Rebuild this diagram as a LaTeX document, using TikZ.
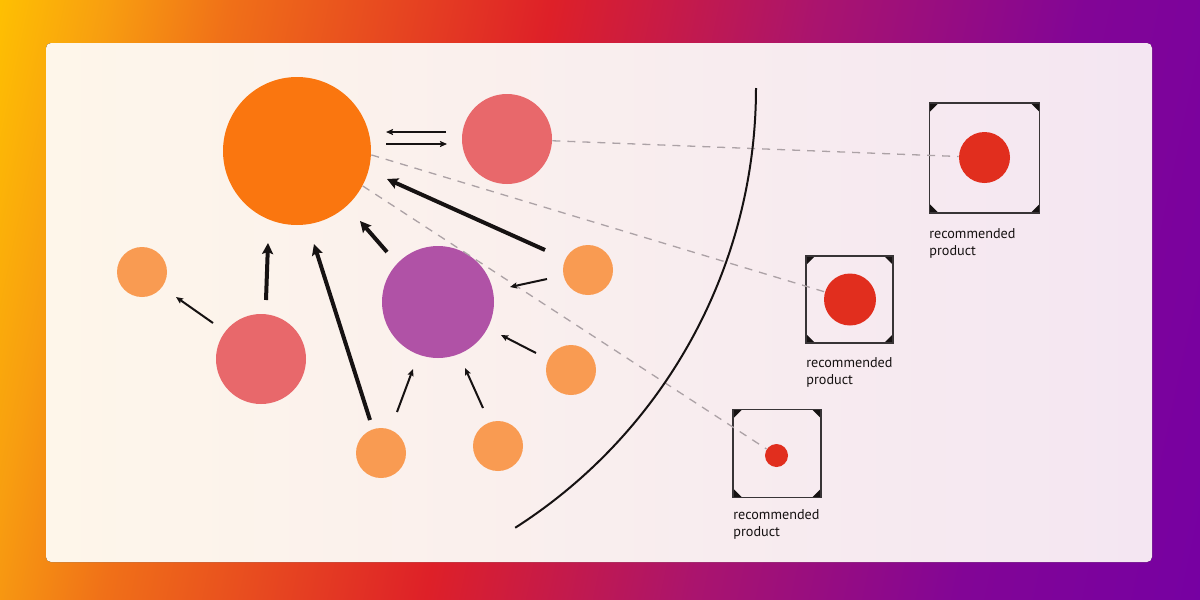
\documentclass[tikz,border=0pt]{standalone}
\usepackage{fontspec}
\newfontfamily\labelfont{PT Sans}
\usetikzlibrary{arrows.meta}
\definecolor{bgA}{RGB}{255,196,0}
\definecolor{bgA2}{RGB}{248,158,16}
\definecolor{bgB}{RGB}{240,112,24}
\definecolor{bgC}{RGB}{222,32,40}
\definecolor{bgD}{RGB}{170,20,110}
\definecolor{bgD2}{RGB}{130,5,150}
\definecolor{bgE}{RGB}{118,0,162}
\definecolor{panelL}{RGB}{254,246,234}
\definecolor{panelR}{RGB}{244,230,242}
\definecolor{cBig}{RGB}{250,118,15}
\definecolor{cPink}{RGB}{232,104,107}
\definecolor{cPurple}{RGB}{176,82,166}
\definecolor{cSmall}{RGB}{249,155,82}
\definecolor{cRed}{RGB}{225,46,30}
\definecolor{ink}{RGB}{22,18,18}
\definecolor{dashc}{RGB}{172,162,166}
\definecolor{boxc}{RGB}{56,52,54}
\pgfdeclarehorizontalshading{bgsh}{100bp}{color(0bp)=(bgA); color(19.5bp)=(bgA); color(25bp)=(bgA2); color(30.5bp)=(bgB); color(45bp)=(bgC); color(57bp)=(bgD); color(69bp)=(bgD2); color(80bp)=(bgE); color(100bp)=(bgE)}
\begin{document}
\begin{tikzpicture}[x=0.5pt,y=-0.5pt,
  blob/.style={circle, draw=none, inner sep=0pt, minimum size=#1},
  thickarr/.style={draw=ink, line width=2pt, -{Stealth[length=5.5pt,width=5.5pt,inset=1pt]}},
  thinarr/.style={draw=ink, line width=1pt, -{Stealth[length=3.5pt,width=3pt,inset=0.6pt]}},
  pairarr/.style={draw=ink, line width=1pt, -{Stealth[length=3.5pt,width=3pt,inset=0.6pt]}},
  dashline/.style={draw=dashc, line width=0.65pt, dash pattern=on 4pt off 3.5pt},
  arcline/.style={draw=ink, line width=1pt},
  rbox/.style={draw=boxc, line width=0.75pt, inner sep=0pt, minimum size=#1,
    path picture={
      \fill[ink] (path picture bounding box.north west) -- ++(9,0) -- ++(-9,9) -- cycle;
      \fill[ink] (path picture bounding box.north east) -- ++(-9,0) -- ++(9,9) -- cycle;
      \fill[ink] (path picture bounding box.south west) -- ++(9,0) -- ++(-9,-9) -- cycle;
      \fill[ink] (path picture bounding box.south east) -- ++(-9,0) -- ++(9,-9) -- cycle;
    }},
  lbl/.style={font=\labelfont\fontsize{7.1pt}{8.6pt}\selectfont, text=ink, anchor=north west, inner sep=0pt, align=left}
]
\useasboundingbox (0,0) rectangle (1200,600);
\fill[shading=bgsh, shading angle=-12] (0,0) rectangle (1200,600);
\fill[rounded corners=2.5pt, left color=panelL, right color=panelR] (46,43) rectangle (1152,562);

% circles
\node[blob=74pt, fill=cBig] (big) at (297,151) {};
\node[blob=45pt, fill=cPink] (pinkTop) at (507,139) {};
\node[blob=56pt, fill=cPurple] (purple) at (438,302) {};
\node[blob=45pt, fill=cPink] (pinkLeft) at (261,359) {};
\node[blob=25pt, fill=cSmall] (s1) at (142,272) {};
\node[blob=25pt, fill=cSmall] (s2) at (588,270) {};
\node[blob=25pt, fill=cSmall] (s3) at (571,370) {};
\node[blob=25pt, fill=cSmall] (s4) at (381,453) {};
\node[blob=25pt, fill=cSmall] (s5) at (498,446) {};

% boxes
\node[rbox=55pt] (b1) at (984.5,158) {};
\node[blob=25.5pt, fill=cRed] (dot1) at (984.5,157.5) {};
\node[rbox=43.5pt] (b2) at (849.5,299.5) {};
\node[blob=26pt, fill=cRed] (dot2) at (850,299.5) {};
\node[rbox=44pt] (b3) at (777,453.5) {};
\node[blob=11.5pt, fill=cRed] (dot3) at (776.5,455.5) {};

\node[lbl] (t1) at (929,228) {recommended\\product};
\node[lbl] (t2) at (806,357) {recommended\\product};
\node[lbl] (t3) at (733,509) {recommended\\product};

% dashed links
\draw[dashline] (pinkTop) -- (dot1);
\draw[dashline] (big.-3) -- (dot2);
\draw[dashline] (big.-28) -- (dot3);

% arc
\coordinate (arcTop) at (756,88);
\draw[arcline] (arcTop) arc[start angle=0, end angle=57.4, radius=522];

% arrow end points
\coordinate (p1a) at (446,132); \coordinate (p1b) at (386,132);
\coordinate (p2a) at (386,144); \coordinate (p2b) at (447,144);
\coordinate (a1s) at (545,250); \coordinate (a1e) at (387,179);
\coordinate (a2s) at (387,252); \coordinate (a2e) at (360,221);
\coordinate (a3s) at (266,300); \coordinate (a3e) at (268,243);
\coordinate (a4s) at (370,420); \coordinate (a4e) at (314,244);
\coordinate (a5s) at (213,323); \coordinate (a5e) at (176,297);
\coordinate (a6s) at (547,279); \coordinate (a6e) at (510,287);
\coordinate (a7s) at (536,353); \coordinate (a7e) at (501,335);
\coordinate (a8s) at (397,412); \coordinate (a8e) at (413,369);
\coordinate (a9s) at (483,408); \coordinate (a9e) at (465,368);

\draw[pairarr] (p1a) -- (p1b);
\draw[pairarr] (p2a) -- (p2b);
\draw[thickarr] (a1s) -- (a1e);
\draw[thickarr] (a2s) -- (a2e);
\draw[thickarr] (a3s) -- (a3e);
\draw[thickarr] (a4s) -- (a4e);
\draw[thinarr] (a5s) -- (a5e);
\draw[thinarr] (a6s) -- (a6e);
\draw[thinarr] (a7s) -- (a7e);
\draw[thinarr] (a8s) -- (a8e);
\draw[thinarr] (a9s) -- (a9e);
\end{tikzpicture}
\end{document}
